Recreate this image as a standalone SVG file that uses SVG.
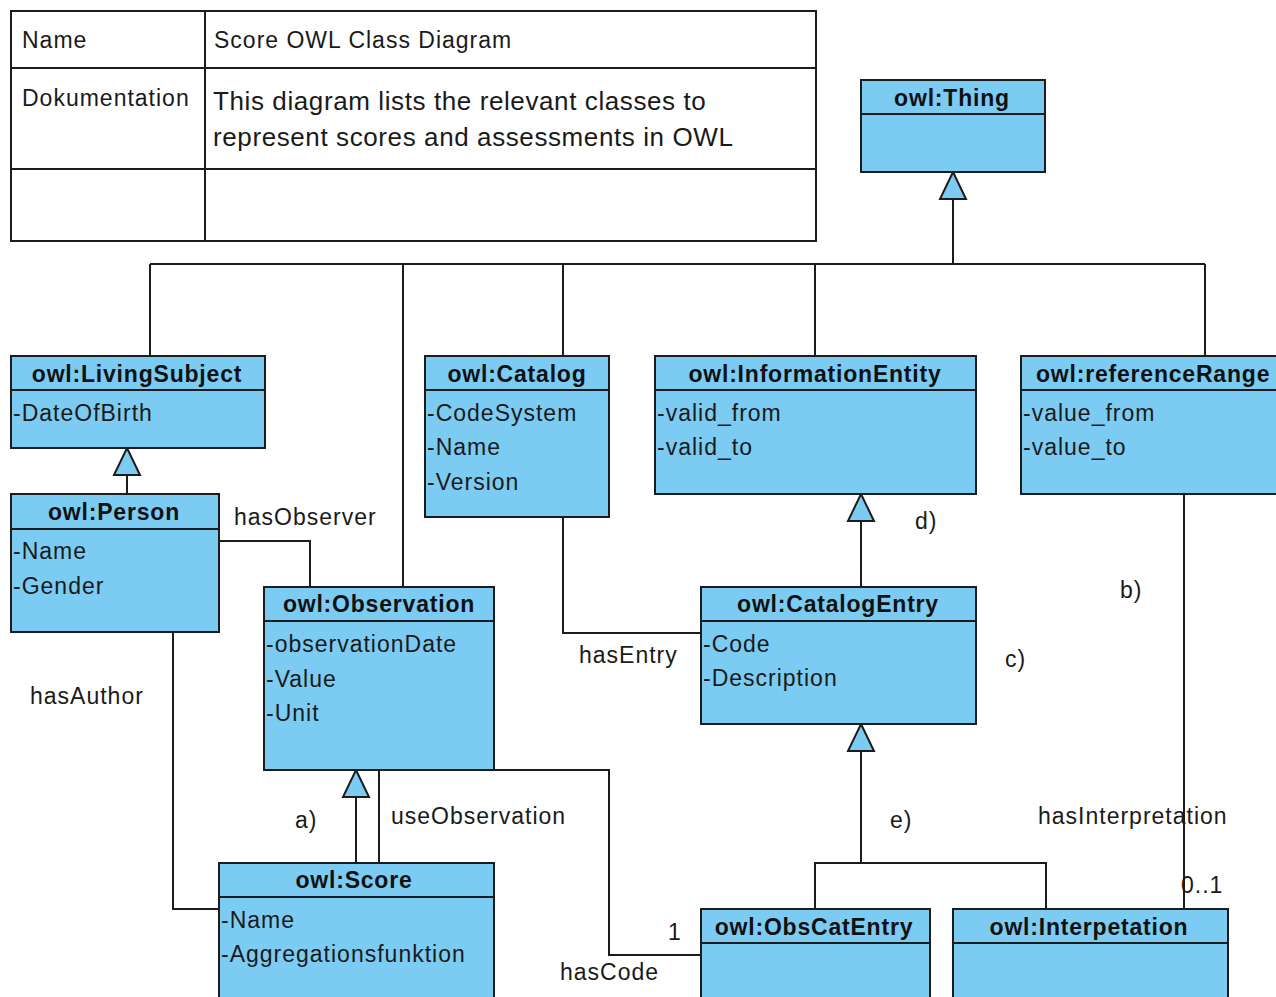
<svg xmlns="http://www.w3.org/2000/svg" xmlns:xlink="http://www.w3.org/1999/xlink" width="1276" height="997" viewBox="0 0 1276 997">
  <style>
    .box { fill: #7bcbf2; stroke: #1c1c1c; stroke-width: 2; }
    .sep { stroke: #1c1c1c; stroke-width: 2; }
    .tbl { fill: #ffffff; stroke: #1c1c1c; stroke-width: 2; }
    .ln { fill: none; stroke: #1c1c1c; stroke-width: 2; }
    .gen { fill: #7bcbf2; stroke: #1c1c1c; stroke-width: 2; }
    .title { font-family: "Liberation Sans", Arial, sans-serif; font-weight: bold; font-size: 23px; letter-spacing: 0.8px; fill: #111; text-anchor: middle; }
    .attr { font-family: "Liberation Sans", Arial, sans-serif; font-size: 23px; letter-spacing: 1px; fill: #1a1a1a; }
    .lbl { font-family: "Liberation Sans", Arial, sans-serif; font-size: 23px; letter-spacing: 1px; fill: #1a1a1a; }
    .doc { font-family: "Liberation Sans", Arial, sans-serif; font-size: 26px; letter-spacing: 0.6px; fill: #1a1a1a; }
  </style>
  <defs>
    <!-- generalization arrowhead, apex at origin pointing up -->
    <path id="genHead" class="gen" d="M0,0 L13,27 L-13,27 Z"/>
  </defs>
  <rect width="1276" height="997" fill="#ffffff"/>

  <!-- diagram info table -->
  <g id="info-table">
    <rect class="tbl" x="11" y="11" width="805" height="230"/>
    <line class="sep" x1="11" y1="68" x2="816" y2="68"/>
    <line class="sep" x1="11" y1="169" x2="816" y2="169"/>
    <line class="sep" x1="205" y1="11" x2="205" y2="241"/>
    <text class="lbl" x="22" y="48">Name</text>
    <text class="lbl" x="214" y="48">Score OWL Class Diagram</text>
    <text class="lbl" x="22" y="106">Dokumentation</text>
    <text class="doc" x="213" y="110">This diagram lists the relevant classes to</text>
    <text class="doc" x="213" y="146">represent scores and assessments in OWL</text>
  </g>

  <!-- connectors -->
  <g id="connectors">
    <!-- inheritance tree from owl:Thing -->
    <polyline class="ln" points="953,198 953,264"/>
    <line class="ln" x1="150" y1="264" x2="1205" y2="264"/>
    <line class="ln" x1="150" y1="264" x2="150" y2="356"/>
    <line class="ln" x1="403" y1="264" x2="403" y2="587"/>
    <line class="ln" x1="563" y1="264" x2="563" y2="356"/>
    <line class="ln" x1="815" y1="264" x2="815" y2="356"/>
    <line class="ln" x1="1205" y1="264" x2="1205" y2="356"/>
    <use xlink:href="#genHead" x="953" y="172"/>

    <!-- Person to LivingSubject -->
    <line class="ln" x1="127" y1="475" x2="127" y2="494"/>
    <use xlink:href="#genHead" x="127" y="448"/>

    <!-- hasObserver -->
    <polyline class="ln" points="219,541 310,541 310,587"/>
    <!-- hasAuthor -->
    <polyline class="ln" points="173,632 173,909 219,909"/>

    <!-- a) Score to Observation -->
    <line class="ln" x1="356" y1="797" x2="356" y2="863"/>
    <use xlink:href="#genHead" x="356" y="770"/>
    <!-- useObservation -->
    <line class="ln" x1="379" y1="770" x2="379" y2="863"/>

    <!-- hasCode -->
    <polyline class="ln" points="494,770 609,770 609,955 701,955"/>

    <!-- hasEntry -->
    <polyline class="ln" points="563,517 563,633 701,633"/>

    <!-- d) CatalogEntry to InformationEntity -->
    <line class="ln" x1="861" y1="521" x2="861" y2="587"/>
    <use xlink:href="#genHead" x="861" y="494"/>

    <!-- e) ObsCatEntry / Interpetation to CatalogEntry -->
    <line class="ln" x1="861" y1="751" x2="861" y2="863"/>
    <polyline class="ln" points="815,909 815,863 1046,863 1046,909"/>
    <use xlink:href="#genHead" x="861" y="724"/>

    <!-- hasInterpretation -->
    <line class="ln" x1="1184" y1="494" x2="1184" y2="909"/>

    <text class="lbl" x="234" y="525">hasObserver</text>
    <text class="lbl" x="30" y="704">hasAuthor</text>
    <text class="lbl" x="295" y="828">a)</text>
    <text class="lbl" x="391" y="824">useObservation</text>
    <text class="lbl" x="579" y="663">hasEntry</text>
    <text class="lbl" x="560" y="980">hasCode</text>
    <text class="lbl" x="668" y="940">1</text>
    <text class="lbl" x="915" y="529">d)</text>
    <text class="lbl" x="1005" y="667">c)</text>
    <text class="lbl" x="1120" y="598">b)</text>
    <text class="lbl" x="890" y="828">e)</text>
    <text class="lbl" x="1038" y="824">hasInterpretation</text>
    <text class="lbl" x="1181" y="893">0..1</text>
  </g>

  <g id="owl-thing">
    <rect class="box" x="861" y="80" width="184" height="92"/>
    <line class="sep" x1="861" y1="114" x2="1045" y2="114"/>
    <text class="title" x="952" y="106">owl:Thing</text>
  </g>

  <g id="owl-livingsubject">
    <rect class="box" x="11" y="356" width="254" height="92"/>
    <line class="sep" x1="11" y1="390" x2="265" y2="390"/>
    <text class="title" x="137" y="382">owl:LivingSubject</text>
    <text class="attr" x="13" y="421">-DateOfBirth</text>
  </g>

  <g id="owl-catalog">
    <rect class="box" x="425" y="356" width="184" height="161"/>
    <line class="sep" x1="425" y1="390" x2="609" y2="390"/>
    <text class="title" x="517" y="382">owl:Catalog</text>
    <text class="attr" x="427" y="421">-CodeSystem</text>
    <text class="attr" x="427" y="455">-Name</text>
    <text class="attr" x="427" y="490">-Version</text>
  </g>

  <g id="owl-informationentity">
    <rect class="box" x="655" y="356" width="321" height="138"/>
    <line class="sep" x1="655" y1="390" x2="976" y2="390"/>
    <text class="title" x="815" y="382">owl:InformationEntity</text>
    <text class="attr" x="657" y="421">-valid_from</text>
    <text class="attr" x="657" y="455">-valid_to</text>
  </g>

  <g id="owl-referencerange">
    <rect class="box" x="1021" y="356" width="270" height="138"/>
    <line class="sep" x1="1021" y1="390" x2="1291" y2="390"/>
    <text class="title" x="1036" y="382" style="text-anchor:start">owl:referenceRange</text>
    <text class="attr" x="1023" y="421">-value_from</text>
    <text class="attr" x="1023" y="455">-value_to</text>
  </g>

  <g id="owl-person">
    <rect class="box" x="11" y="494" width="208" height="138"/>
    <line class="sep" x1="11" y1="529" x2="219" y2="529"/>
    <text class="title" x="114" y="520">owl:Person</text>
    <text class="attr" x="13" y="559">-Name</text>
    <text class="attr" x="13" y="594">-Gender</text>
  </g>

  <g id="owl-observation">
    <rect class="box" x="264" y="587" width="230" height="183"/>
    <line class="sep" x1="264" y1="621" x2="494" y2="621"/>
    <text class="title" x="379" y="612">owl:Observation</text>
    <text class="attr" x="266" y="652">-observationDate</text>
    <text class="attr" x="266" y="687">-Value</text>
    <text class="attr" x="266" y="721">-Unit</text>
  </g>

  <g id="owl-catalogentry">
    <rect class="box" x="701" y="587" width="275" height="137"/>
    <line class="sep" x1="701" y1="621" x2="976" y2="621"/>
    <text class="title" x="838" y="612">owl:CatalogEntry</text>
    <text class="attr" x="703" y="652">-Code</text>
    <text class="attr" x="703" y="686">-Description</text>
  </g>

  <g id="owl-score">
    <rect class="box" x="219" y="863" width="275" height="150"/>
    <line class="sep" x1="219" y1="897" x2="494" y2="897"/>
    <text class="title" x="354" y="888">owl:Score</text>
    <text class="attr" x="221" y="928">-Name</text>
    <text class="attr" x="221" y="962">-Aggregationsfunktion</text>
  </g>

  <g id="owl-obscatentry">
    <rect class="box" x="701" y="909" width="229" height="100"/>
    <line class="sep" x1="701" y1="943" x2="930" y2="943"/>
    <text class="title" x="814" y="935">owl:ObsCatEntry</text>
  </g>

  <g id="owl-interpetation">
    <rect class="box" x="953" y="909" width="275" height="100"/>
    <line class="sep" x1="953" y1="943" x2="1228" y2="943"/>
    <text class="title" x="1089" y="935">owl:Interpetation</text>
  </g>
</svg>
